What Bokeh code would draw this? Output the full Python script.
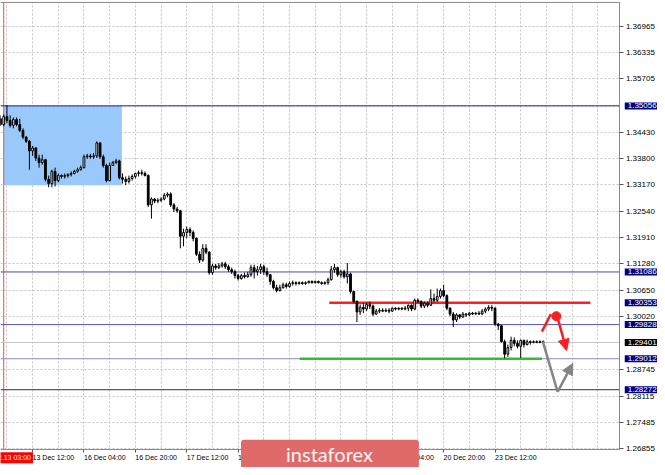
from bokeh.plotting import figure
from bokeh.models import (Range1d, FixedTicker, PrintfTickFormatter, Label, Grid,
                          Arrow, NormalHead, LinearAxis, ColumnDataSource)
from bokeh.embed import file_html
from bokeh.resources import INLINE

# ---------------- data (H1 bars, index 0 = 13 Dec 02:00) ----------------
opens = [1.3475, 1.3461, 1.3480, 1.3471, 1.3459, 1.3473, 1.3461, 1.3447, 1.3431, 1.3421,
         1.3398, 1.3405, 1.3381, 1.3370, 1.3377, 1.3330, 1.3320, 1.3349, 1.3327, 1.3339,
         1.3337, 1.3339, 1.3342, 1.3344, 1.3349, 1.3353, 1.3358, 1.3384, 1.3386, 1.3384,
         1.3386, 1.3417, 1.3384, 1.3363, 1.3327, 1.3363, 1.3370, 1.3374, 1.3334, 1.3330,
         1.3325, 1.3332, 1.3337, 1.3344, 1.3346, 1.3344, 1.3339, 1.3269, 1.3283, 1.3278,
         1.3280, 1.3283, 1.3292, 1.3295, 1.3269, 1.3259, 1.3255, 1.3194, 1.3203, 1.3210,
         1.3203, 1.3189, 1.3151, 1.3137, 1.3165, 1.3156, 1.3107, 1.3123, 1.3119, 1.3123,
         1.3128, 1.3121, 1.3114, 1.3109, 1.3100, 1.3093, 1.3100, 1.3097, 1.3102, 1.3119,
         1.3109, 1.3114, 1.3121, 1.3109, 1.3102, 1.3086, 1.3071, 1.3064, 1.3071, 1.3078,
         1.3074, 1.3081, 1.3083, 1.3081, 1.3083, 1.3081, 1.3083, 1.3086, 1.3083, 1.3086,
         1.3083, 1.3081, 1.3083, 1.3090, 1.3114, 1.3119, 1.3102, 1.3109, 1.3097, 1.3104,
         1.3062, 1.3038, 1.3013, 1.3024, 1.3020, 1.3031, 1.3027, 1.3008, 1.3015, 1.3017,
         1.3015, 1.3017, 1.3015, 1.3022, 1.3020, 1.3022, 1.3020, 1.3022, 1.3029, 1.3020,
         1.3041, 1.3038, 1.3027, 1.3034, 1.3029, 1.3045, 1.3041, 1.3050, 1.3064, 1.3052,
         1.3022, 1.3008, 1.2994, 1.3006, 1.3001, 1.3008, 1.3006, 1.3010, 1.3008, 1.3010,
         1.3008, 1.3015, 1.3020, 1.3024, 1.3022, 1.2984, 1.2980, 1.2942, 1.2912, 1.2928,
         1.2945, 1.2938, 1.2931, 1.2945, 1.2935, 1.2942, 1.2940, 1.2942, 1.2940, 1.2942]
highs = [1.3483, 1.3485, 1.3508, 1.3483, 1.3478, 1.3478, 1.3475, 1.3452, 1.3433, 1.3424,
         1.3410, 1.3407, 1.3389, 1.3389, 1.3379, 1.3339, 1.3353, 1.3358, 1.3344, 1.3342,
         1.3344, 1.3344, 1.3349, 1.3353, 1.3358, 1.3363, 1.3389, 1.3391, 1.3391, 1.3393,
         1.3421, 1.3419, 1.3389, 1.3367, 1.3370, 1.3374, 1.3379, 1.3377, 1.3344, 1.3337,
         1.3339, 1.3342, 1.3346, 1.3351, 1.3353, 1.3349, 1.3342, 1.3287, 1.3285, 1.3285,
         1.3287, 1.3297, 1.3299, 1.3299, 1.3273, 1.3264, 1.3257, 1.3212, 1.3217, 1.3215,
         1.3208, 1.3191, 1.3158, 1.3175, 1.3175, 1.3158, 1.3128, 1.3128, 1.3130, 1.3133,
         1.3133, 1.3126, 1.3119, 1.3114, 1.3104, 1.3104, 1.3107, 1.3109, 1.3126, 1.3126,
         1.3123, 1.3128, 1.3126, 1.3119, 1.3104, 1.3090, 1.3078, 1.3078, 1.3083, 1.3083,
         1.3086, 1.3088, 1.3086, 1.3086, 1.3086, 1.3086, 1.3088, 1.3088, 1.3088, 1.3088,
         1.3086, 1.3086, 1.3095, 1.3123, 1.3128, 1.3121, 1.3114, 1.3114, 1.3130, 1.3107,
         1.3064, 1.3041, 1.3031, 1.3034, 1.3036, 1.3038, 1.3031, 1.3020, 1.3022, 1.3022,
         1.3022, 1.3022, 1.3024, 1.3024, 1.3024, 1.3024, 1.3027, 1.3031, 1.3031, 1.3045,
         1.3045, 1.3041, 1.3038, 1.3038, 1.3067, 1.3057, 1.3069, 1.3069, 1.3078, 1.3055,
         1.3024, 1.3013, 1.3010, 1.3008, 1.3013, 1.3010, 1.3013, 1.3013, 1.3013, 1.3015,
         1.3020, 1.3024, 1.3029, 1.3029, 1.3024, 1.2987, 1.2982, 1.2947, 1.2935, 1.2954,
         1.2952, 1.2945, 1.2947, 1.2947, 1.2947, 1.2945, 1.2945, 1.2945, 1.2945, 1.2945]
lows = [1.3457, 1.3457, 1.3464, 1.3454, 1.3452, 1.3457, 1.3443, 1.3426, 1.3417, 1.3353,
        1.3386, 1.3374, 1.3358, 1.3365, 1.3325, 1.3311, 1.3311, 1.3313, 1.3323, 1.3332,
        1.3332, 1.3334, 1.3337, 1.3342, 1.3346, 1.3351, 1.3356, 1.3379, 1.3379, 1.3379,
        1.3381, 1.3379, 1.3358, 1.3323, 1.3325, 1.3363, 1.3367, 1.3330, 1.3320, 1.3316,
        1.3320, 1.3327, 1.3332, 1.3337, 1.3339, 1.3337, 1.3264, 1.3236, 1.3273, 1.3273,
        1.3276, 1.3280, 1.3287, 1.3264, 1.3252, 1.3250, 1.3165, 1.3170, 1.3189, 1.3194,
        1.3182, 1.3147, 1.3130, 1.3133, 1.3151, 1.3102, 1.3102, 1.3114, 1.3116, 1.3119,
        1.3116, 1.3109, 1.3104, 1.3093, 1.3088, 1.3090, 1.3093, 1.3095, 1.3097, 1.3093,
        1.3100, 1.3104, 1.3102, 1.3097, 1.3078, 1.3067, 1.3060, 1.3062, 1.3069, 1.3069,
        1.3071, 1.3076, 1.3076, 1.3078, 1.3078, 1.3078, 1.3081, 1.3081, 1.3081, 1.3081,
        1.3078, 1.3078, 1.3078, 1.3088, 1.3107, 1.3097, 1.3095, 1.3093, 1.3081, 1.3057,
        1.3034, 1.2989, 1.3006, 1.3010, 1.3015, 1.3020, 1.3003, 1.3006, 1.3010, 1.3013,
        1.3013, 1.3010, 1.3013, 1.3017, 1.3017, 1.3017, 1.3017, 1.3015, 1.3015, 1.3017,
        1.3034, 1.3022, 1.3022, 1.3024, 1.3027, 1.3036, 1.3036, 1.3045, 1.3048, 1.3017,
        1.3003, 1.2977, 1.2989, 1.2996, 1.2999, 1.3001, 1.3003, 1.3006, 1.3006, 1.3006,
        1.3006, 1.3010, 1.3015, 1.3015, 1.2980, 1.2970, 1.2940, 1.2902, 1.2906, 1.2921,
        1.2931, 1.2926, 1.2903, 1.2928, 1.2933, 1.2935, 1.2938, 1.2938, 1.2938, 1.2938]
closes = [1.3461, 1.3480, 1.3471, 1.3459, 1.3473, 1.3461, 1.3447, 1.3431, 1.3421, 1.3398,
          1.3405, 1.3381, 1.3370, 1.3377, 1.3330, 1.3320, 1.3349, 1.3327, 1.3339, 1.3337,
          1.3339, 1.3342, 1.3344, 1.3349, 1.3353, 1.3358, 1.3384, 1.3386, 1.3384, 1.3386,
          1.3417, 1.3384, 1.3363, 1.3327, 1.3363, 1.3370, 1.3374, 1.3334, 1.3330, 1.3325,
          1.3332, 1.3337, 1.3344, 1.3346, 1.3344, 1.3339, 1.3269, 1.3283, 1.3278, 1.3280,
          1.3283, 1.3292, 1.3295, 1.3269, 1.3259, 1.3255, 1.3194, 1.3203, 1.3210, 1.3203,
          1.3189, 1.3151, 1.3137, 1.3165, 1.3156, 1.3107, 1.3123, 1.3119, 1.3123, 1.3128,
          1.3121, 1.3114, 1.3109, 1.3100, 1.3093, 1.3100, 1.3097, 1.3102, 1.3119, 1.3109,
          1.3114, 1.3121, 1.3109, 1.3102, 1.3086, 1.3071, 1.3064, 1.3071, 1.3078, 1.3074,
          1.3081, 1.3083, 1.3081, 1.3083, 1.3081, 1.3083, 1.3086, 1.3083, 1.3086, 1.3083,
          1.3081, 1.3083, 1.3090, 1.3114, 1.3119, 1.3102, 1.3109, 1.3097, 1.3104, 1.3062,
          1.3038, 1.3013, 1.3024, 1.3020, 1.3031, 1.3027, 1.3008, 1.3015, 1.3017, 1.3015,
          1.3017, 1.3015, 1.3022, 1.3020, 1.3022, 1.3020, 1.3022, 1.3029, 1.3020, 1.3041,
          1.3038, 1.3027, 1.3034, 1.3029, 1.3045, 1.3041, 1.3050, 1.3064, 1.3052, 1.3022,
          1.3008, 1.2994, 1.3006, 1.3001, 1.3008, 1.3006, 1.3010, 1.3008, 1.3010, 1.3008,
          1.3015, 1.3020, 1.3024, 1.3022, 1.2984, 1.2980, 1.2942, 1.2912, 1.2928, 1.2945,
          1.2938, 1.2931, 1.2945, 1.2935, 1.2942, 1.2940, 1.2942, 1.2940, 1.2942, 1.2940]

# time axis labels (bar index -> label)
label_bars = [10, 26, 42, 58, 74, 90, 106, 122, 138, 154]
time_labels = ["13 Dec 12:00", "16 Dec 04:00", "16 Dec 20:00", "17 Dec 12:00",
               "18 Dec 04:00", "18 Dec 20:00", "19 Dec 12:00", "20 Dec 04:00",
               "20 Dec 20:00", "23 Dec 12:00"]
grid_bars = list(range(2, 190, 8))

# price axis
axis_prices = [1.36965, 1.36335, 1.35705, 1.34430, 1.33800, 1.33170, 1.32540,
               1.31910, 1.31280, 1.30650, 1.30020, 1.28745, 1.28115, 1.27485, 1.26855]
grid_prices = axis_prices + [1.35056, 1.29401]

# levels
blue_levels = [1.35056, 1.31086, 1.29828, 1.29012, 1.28272]
blue_colors = ["#20208e", "#4a4aaa", "#5656ae", "#8c8cd2", "#28288f"]
resistance = 1.30353
resistance_bars = [102.4, 183.7]
support = 1.29012
support_bars = [93.2, 168.6]
bid = 1.29401

# highlighted range rectangle
box_bars = [1, 37.8]
box_prices = [1.3316, 1.35056]
start_bar = 1

# forecast paths (bar, price)
red_up_bars = [168.6, 171.4]
red_up_prices = [1.2966, 1.3008]
red_dot = (173.1, 1.3003)
red_arrow = (173.6, 1.2996, 176.3, 1.2921)
grey_bars = [168.9, 173.5]
grey_prices = [1.2942, 1.2822]
grey_arrow = (173.5, 1.2822, 178.2, 1.2890)

# right-side price tags
tags = [(1.35056, "1.35056", "#000080"), (1.31086, "1.31086", "#000080"),
        (1.30353, "1.30353", "#000080"), (1.29828, "1.29828", "#000080"),
        (1.29401, "1.29401", "#000000"), (1.29012, "1.29012", "#000080"),
        (1.28272, "1.28272", "#000080")]

# chart window (bars, prices) and whole canvas extent
plot_x = (0, 192.9)
plot_y = (1.26835, 1.37528)
canvas_x = (0, 204.6)
canvas_y = (1.26412, 1.37575)

# ---------------- figure ----------------
p = figure(width=657, height=467, output_backend="svg", toolbar_location=None,
           x_range=Range1d(*canvas_x), y_range=Range1d(*canvas_y),
           x_axis_type=None, y_axis_type=None, min_border=0)
p.outline_line_color = None
p.background_fill_color = "white"
p.border_fill_color = "white"

for dim, ticks in ((0, grid_bars), (1, grid_prices)):
    p.add_layout(Grid(dimension=dim, ticker=FixedTicker(ticks=ticks),
                      grid_line_color="#c4c4c4", grid_line_dash="2 2", grid_line_width=1))

# blank margins (price scale and time scale areas)
p.quad(left=[plot_x[1], canvas_x[0], canvas_x[0]], right=[canvas_x[1], canvas_x[1], canvas_x[1]],
       bottom=[canvas_y[0], canvas_y[0], plot_y[1]], top=[canvas_y[1], plot_y[0], canvas_y[1]],
       fill_color="white", line_color=None)

# top border
p.segment(x0=[plot_x[0]], y0=[plot_y[1]], x1=[plot_x[1]], y1=[plot_y[1]],
          line_color="#8a8a8a", line_width=1)

# rectangle
p.quad(left=[box_bars[0]], right=[box_bars[1]], bottom=[box_prices[0]], top=[box_prices[1]],
       fill_color="#99c9fb", line_color=None)

p.segment(x0=[start_bar], y0=[plot_y[0]], x1=[start_bar], y1=[plot_y[1]],
          line_color="#ff4a4a", line_width=1)

n_lv = len(blue_levels)
p.segment(x0=[plot_x[0]] * n_lv, y0=blue_levels, x1=[plot_x[1]] * n_lv, y1=blue_levels,
          line_color=blue_colors, line_width=1)
p.segment(x0=[plot_x[0]], y0=[bid], x1=[plot_x[1]], y1=[bid], line_color="#c8c8c8", line_width=1)

p.segment(x0=[resistance_bars[0]], y0=[resistance], x1=[resistance_bars[1]], y1=[resistance],
          line_color="#ff1f1f", line_width=2.5)
p.segment(x0=[support_bars[0]], y0=[support], x1=[support_bars[1]], y1=[support],
          line_color="#2fbf2f", line_width=2.5)

# candles
bars = list(range(len(closes)))
up = [i for i in bars if closes[i] >= opens[i]]
dn = [i for i in bars if closes[i] < opens[i]]
p.segment(x0=bars, y0=lows, x1=bars, y1=highs, line_color="black", line_width=1)
src_up = ColumnDataSource(dict(x=up, o=[opens[i] for i in up], c=[closes[i] for i in up]))
src_dn = ColumnDataSource(dict(x=dn, o=[opens[i] for i in dn], c=[closes[i] for i in dn]))
p.vbar(x="x", width=0.55, bottom="o", top="c", source=src_up,
       fill_color="white", line_color="black", line_width=1)
p.vbar(x="x", width=0.55, bottom="o", top="c", source=src_dn,
       fill_color="black", line_color="black", line_width=1)

# forecast arrows
p.line(red_up_bars, red_up_prices, line_color="#f52020", line_width=2.5)
p.scatter([red_dot[0]], [red_dot[1]], size=9, color="#f52020")
p.add_layout(Arrow(end=NormalHead(size=11, fill_color="#f52020", line_color="#f52020"),
                   x_start=red_arrow[0], y_start=red_arrow[1],
                   x_end=red_arrow[2], y_end=red_arrow[3],
                   line_color="#f52020", line_width=2.5))
p.line(grey_bars, grey_prices, line_color="#858585", line_width=2.5)
p.add_layout(Arrow(end=NormalHead(size=11, fill_color="#858585", line_color="#858585"),
                   x_start=grey_arrow[0], y_start=grey_arrow[1],
                   x_end=grey_arrow[2], y_end=grey_arrow[3],
                   line_color="#858585", line_width=2.5))

# axes drawn at the chart window edges
ya = LinearAxis(fixed_location=plot_x[1], bounds=plot_y,
                ticker=FixedTicker(ticks=axis_prices),
                formatter=PrintfTickFormatter(format="%.5f"))
xa = LinearAxis(fixed_location=plot_y[0], bounds=plot_x,
                ticker=FixedTicker(ticks=label_bars),
                major_label_overrides=dict(zip(label_bars, time_labels)),
                major_label_orientation=-0.0001)
for ax, fs, tout, soff in ((ya, "8px", 4, 2), (xa, "7px", 3, 5)):
    ax.major_label_text_font = "Liberation Sans"
    ax.major_label_text_font_size = fs
    ax.major_label_text_color = "black"
    ax.major_tick_out = tout
    ax.major_tick_in = 0
    ax.minor_tick_out = 0
    ax.minor_tick_in = 0
    ax.axis_line_color = "#8a8a8a"
    ax.major_tick_line_color = "#555555"
    ax.major_label_standoff = soff
p.add_layout(ya, "right")
p.add_layout(xa, "below")

for val, txt, col in tags:
    p.add_layout(Label(x=194.4, y=val, text=txt, text_font="Liberation Sans",
                       text_font_size="8px", text_color="white",
                       text_align="left", text_baseline="middle",
                       background_fill_color=col,
                       padding=dict(left=3, right=2, top=1, bottom=1)))

p.add_layout(Label(x=start_bar, y=1.26647, text="2019.12.13 03:00", text_font="Liberation Sans",
                   text_font_size="7px", text_color="white", text_align="center",
                   text_baseline="middle", background_fill_color="#ff0000",
                   padding=dict(left=2, right=2, top=2, bottom=2)))

p.add_layout(Label(x=102.6, y=1.26624, text="instaforex", text_font="Lato",
                   text_font_size="20px", text_color="#fff4f4", text_align="center",
                   text_baseline="middle", background_fill_color="#e06a6a",
                   border_radius=3,
                   padding=dict(left=45, right=46, top=2, bottom=12)))

open("out.html", "w").write(file_html(p, INLINE))
